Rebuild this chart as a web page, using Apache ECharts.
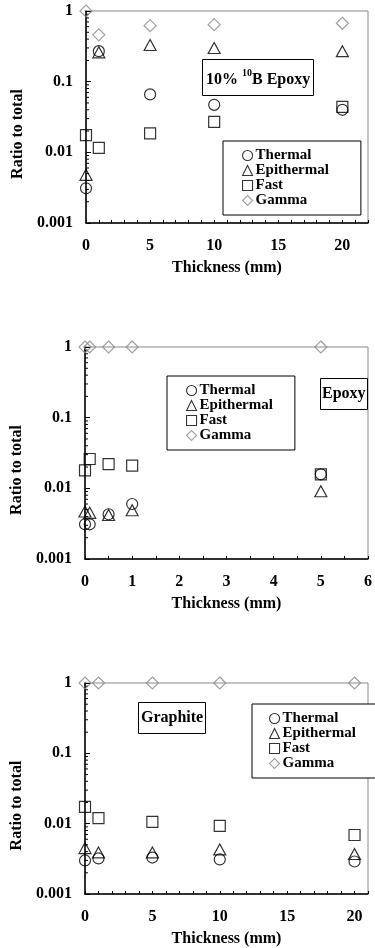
<!DOCTYPE html>
<html>
<head>
<meta charset="utf-8">
<script src="https://cdn.jsdelivr.net/npm/echarts@6/dist/echarts.min.js"></script>
<style>
html,body{margin:0;padding:0;background:#fff;}
#chart{width:375px;height:948px;}
</style>
</head>
<body>
<div id="chart"></div>
<script>
// ---------- data ----------
const seriesNames = ['Thermal', 'Epithermal', 'Fast', 'Gamma'];
const yTickLabels = ['0.001', '0.01', '0.1', '1'];
const yMinorTicks = [0.002,0.003,0.004,0.005,0.006,0.007,0.008,0.009,
                     0.02,0.03,0.04,0.05,0.06,0.07,0.08,0.09,
                     0.2,0.3,0.4,0.5,0.6,0.7,0.8,0.9];

// Panel 1: 10% 10B Epoxy
const x1 = [0, 1, 5, 10, 20];
const p1Thermal    = [0.0031, 0.27, 0.066, 0.047, 0.040];
const p1Epithermal = [0.0048, 0.26, 0.33, 0.30, 0.27];
const p1Fast       = [0.0175, 0.0116, 0.0185, 0.027, 0.044];
const p1Gamma      = [1.0, 0.46, 0.62, 0.64, 0.67];
const x1TickLabels = [0, 5, 10, 15, 20];

// Panel 2: Epoxy
const x2 = [0, 0.1, 0.5, 1, 5];
const p2Thermal    = [0.0031, 0.0031, 0.0043, 0.0060, 0.0158];
const p2Epithermal = [0.0047, 0.0045, 0.0042, 0.0049, 0.0091];
const p2Fast       = [0.018, 0.026, 0.022, 0.021, 0.0158];
const p2Gamma      = [1, 1, 1, 1, 1];
const x2TickLabels = [0, 1, 2, 3, 4, 5, 6];

// Panel 3: Graphite
const x3 = [0, 1, 5, 10, 20];
const p3Thermal    = [0.0030, 0.0032, 0.0033, 0.0031, 0.0029];
const p3Epithermal = [0.0045, 0.0039, 0.0039, 0.0043, 0.0037];
const p3Fast       = [0.0173, 0.0120, 0.0106, 0.0093, 0.0069];
const p3Gamma      = [1, 1, 1, 1, 1];
const x3TickLabels = [0, 5, 10, 15, 20];

// ---------- styling ----------
const FONT = '"Liberation Serif", "Times New Roman", serif';
const symbols = {Thermal:'circle', Epithermal:'triangle', Fast:'rect', Gamma:'diamond'};
const sizes = {Thermal:11, Epithermal:[12,11], Fast:11, Gamma:12};
const colors = {Thermal:'#000', Epithermal:'#000', Fast:'#000', Gamma:'#888'};

function zip(xs, ys){ return xs.map((x,i)=>[x, ys[i]]); }

const grids = [
  {left:86, top:11, width:282, height:212},
  {left:85, top:347, width:287.5, height:212},
  {left:85, top:683, width:283, height:213}
];
const xCfg = [
  {max:22, interval:1, labels:x1TickLabels},
  {max:6, interval:0.5, labels:x2TickLabels},
  {max:21, interval:1, labels:x3TickLabels}
];
const panelData = [
  [x1, [p1Thermal, p1Epithermal, p1Fast, p1Gamma]],
  [x2, [p2Thermal, p2Epithermal, p2Fast, p2Gamma]],
  [x3, [p3Thermal, p3Epithermal, p3Fast, p3Gamma]]
];

const xAxes = [], yAxes = [], series = [];
grids.forEach((g, i) => {
  g.show = true; g.borderColor = '#8a8a8a'; g.borderWidth = 1; g.backgroundColor = 'transparent';
  const labels = xCfg[i].labels;
  xAxes.push({
    type:'value', gridIndex:i, min:0, max:xCfg[i].max, interval:xCfg[i].interval,
    name:'Thickness (mm)', nameLocation:'middle', nameGap:37,
    nameTextStyle:{fontFamily:FONT, fontWeight:'bold', fontSize:16, color:'#000'},
    axisLine:{show:true, onZero:false, lineStyle:{color:'#000', width:1.5}},
    axisTick:{show:true, inside:true, length:3, lineStyle:{color:'#000', width:1}},
    axisLabel:{margin:15, fontFamily:FONT, fontWeight:'bold', fontSize:16, color:'#000',
      showMaxLabel:true,
      formatter: v => labels.some(l => Math.abs(l - v) < 1e-6) ? String(v) : ''},
    splitLine:{show:false}
  });
  yAxes.push({
    type:'log', logBase:10, gridIndex:i, min:0.001, max:1,
    name:'Ratio to total', nameLocation:'middle', nameGap:56,
    nameTextStyle:{fontFamily:FONT, fontWeight:'bold', fontSize:16, color:'#000', padding:[0,34,0,0]},
    axisLine:{show:true, onZero:false, lineStyle:{color:'#000', width:1.5}},
    axisTick:{show:true, inside:true, length:5, lineStyle:{color:'#000', width:1}},
    axisLabel:{margin:13, fontFamily:FONT, fontWeight:'bold', fontSize:16, color:'#000',
      formatter: v => yTickLabels[Math.round(Math.log10(v)) + 3]},
    splitLine:{show:false}
  });
  // minor log ticks drawn through the y axis scale
  series.push({
    type:'custom', xAxisIndex:i, yAxisIndex:i, silent:true, clip:false, z:5,
    data: yMinorTicks.map(v => [0, v]),
    renderItem: (params, api) => {
      const p = api.coord([api.value(0), api.value(1)]);
      return {type:'line', shape:{x1:p[0], y1:p[1], x2:p[0]+3, y2:p[1]},
              style:{stroke:'#000', lineWidth:1}};
    }
  });
  const [xs, ys] = panelData[i];
  seriesNames.forEach((name, k) => {
    series.push({
      type:'scatter', name:name, xAxisIndex:i, yAxisIndex:i, clip:false, z:10,
      symbol:symbols[name], symbolSize:sizes[name],
      itemStyle:{color:'rgba(0,0,0,0)', borderColor:colors[name], borderWidth:1.2},
      emphasis:{disabled:true},
      data: zip(xs, ys[k])
    });
  });
});

const legendItems = seriesNames.map(n => ({
  name:n, icon:symbols[n],
  itemStyle:{color:'rgba(0,0,0,0)', borderColor:colors[n], borderWidth:1.1}
}));
function mkLegend(left, top, padding){
  return {
    orient:'vertical', left:left, top:top, padding:padding,
    itemWidth:10, itemHeight:10, itemGap:0, selectedMode:false,
    borderColor:'#000', borderWidth:1, backgroundColor:'#fff',
    textStyle:{fontFamily:FONT, fontWeight:'bold', fontSize:15, color:'#000', lineHeight:14, padding:[0,0,0,-2]},
    data:legendItems
  };
}

const titleText = {fontFamily:FONT, fontWeight:'bold', fontSize:16, color:'#000', lineHeight:18};
const option = {
  animation:false,
  grid:grids,
  xAxis:xAxes,
  yAxis:yAxes,
  legend:[
    mkLegend(223, 141, [7, 32, 7, 19]),
    mkLegend(167, 376, [7, 22, 7, 19]),
    mkLegend(252, 704, [7, 20, 7, 17])
  ],
  title:[
    {left:202, top:59, padding:[9,4,8,4], borderColor:'#000', borderWidth:1, backgroundColor:'#fff',
     text:'{m|10% }{s|10}{m|B Epoxy}',
     textStyle:{rich:{
       m:{fontFamily:FONT, fontWeight:'bold', fontSize:16, color:'#000', lineHeight:20, verticalAlign:'bottom'},
       s:{fontFamily:FONT, fontWeight:'bold', fontSize:10, color:'#000', lineHeight:20, verticalAlign:'top', padding:[0,0,8,0]}
     }}},
    {left:320, top:378, padding:[7,2,7,2], borderColor:'#000', borderWidth:1, backgroundColor:'#fff',
     text:'Epoxy', textStyle:titleText},
    {left:138, top:702, padding:[7,3,7,3], borderColor:'#000', borderWidth:1, backgroundColor:'#fff',
     text:'Graphite', textStyle:titleText}
  ],
  series:series
};

const chart = echarts.init(document.getElementById('chart'), null, {renderer:'canvas'});
chart.setOption(option);
</script>
</body>
</html>
